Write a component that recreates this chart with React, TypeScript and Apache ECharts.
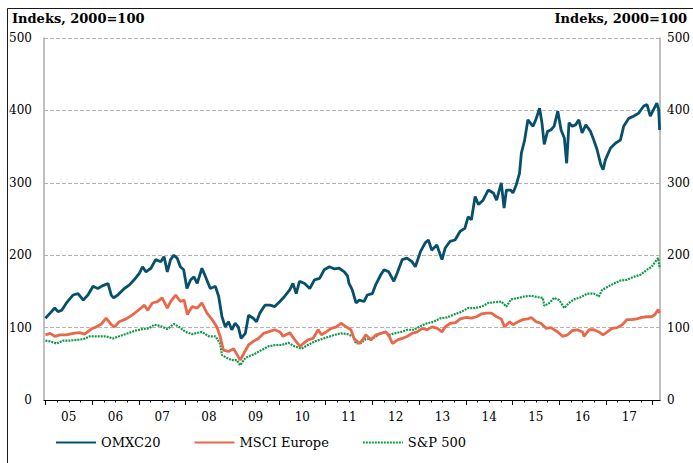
import React, { useEffect, useRef } from "react";
import * as echarts from "echarts";

// x values are years since start of 2005 (decimal), y values are index (2000=100)
const yearTicks = [2005, 2006, 2007, 2008, 2009, 2010, 2011, 2012, 2013, 2014, 2015, 2016, 2017, 2018];
const yearLabels = ["05", "06", "07", "08", "09", "10", "11", "12", "13", "14", "15", "16", "17"];

const omxcT = [0.00,0.10,0.20,0.27,0.35,0.45,0.59,0.70,0.81,0.91,1.02,1.12,1.23,1.34,1.41,1.46,1.55,1.69,1.80,1.90,2.01,2.08,2.15,2.26,2.36,2.47,2.54,2.61,2.68,2.75,2.82,2.89,2.96,3.03,3.11,3.18,3.25,3.35,3.43,3.53,3.64,3.71,3.78,3.85,3.92,3.99,4.06,4.13,4.19,4.28,4.35,4.45,4.52,4.59,4.70,4.81,4.91,5.02,5.12,5.23,5.30,5.37,5.44,5.55,5.66,5.76,5.87,5.97,6.08,6.19,6.29,6.40,6.47,6.50,6.57,6.65,6.72,6.82,6.89,7.00,7.07,7.18,7.25,7.35,7.46,7.53,7.64,7.74,7.85,7.92,8.03,8.13,8.20,8.27,8.38,8.49,8.56,8.66,8.77,8.88,8.98,9.05,9.12,9.20,9.27,9.37,9.48,9.59,9.66,9.76,9.82,9.87,9.96,10.01,10.08,10.15,10.19,10.26,10.33,10.44,10.51,10.58,10.63,10.68,10.75,10.82,10.89,10.97,11.04,11.11,11.16,11.21,11.28,11.35,11.42,11.49,11.57,11.67,11.74,11.81,11.89,11.94,11.99,12.10,12.21,12.31,12.38,12.49,12.59,12.70,12.81,12.88,12.95,13.02,13.09,13.13,13.15];
const omxcValues = [113,120,127,122,124,134,145,147,138,145,157,154,158,161,145,141,145,154,159,166,175,184,177,182,194,191,198,177,194,200,196,184,180,154,166,170,161,182,170,154,157,143,115,101,108,97,106,101,85,92,117,113,108,120,131,131,129,136,143,152,161,147,164,161,154,166,168,180,184,181,182,177,171,161,152,134,138,136,145,147,159,173,180,177,164,175,194,196,191,184,205,217,221,207,214,194,210,219,221,233,237,253,249,281,270,276,290,286,276,300,265,290,290,286,297,313,341,359,387,378,389,403,383,353,371,373,378,399,373,362,327,383,378,380,387,369,380,371,359,346,325,318,332,348,355,359,378,389,392,396,406,408,392,401,410,401,373];

const msciT = [0.00,0.10,0.20,0.31,0.45,0.59,0.73,0.84,0.98,1.09,1.20,1.30,1.41,1.48,1.58,1.73,1.87,2.01,2.12,2.19,2.29,2.40,2.50,2.61,2.68,2.79,2.89,2.97,3.04,3.14,3.25,3.35,3.46,3.57,3.67,3.74,3.81,3.92,4.03,4.17,4.27,4.35,4.45,4.56,4.67,4.77,4.91,5.02,5.09,5.23,5.34,5.45,5.52,5.62,5.73,5.84,5.91,6.01,6.12,6.23,6.33,6.44,6.54,6.61,6.72,6.79,6.86,6.97,7.08,7.18,7.29,7.36,7.43,7.54,7.64,7.75,7.85,7.96,8.07,8.17,8.28,8.39,8.49,8.56,8.67,8.78,8.88,9.02,9.12,9.23,9.34,9.44,9.55,9.66,9.76,9.83,9.94,10.01,10.12,10.22,10.33,10.40,10.51,10.61,10.72,10.82,10.97,11.07,11.18,11.28,11.39,11.50,11.53,11.64,11.74,11.85,11.94,12.03,12.13,12.24,12.35,12.45,12.56,12.66,12.77,12.88,12.98,13.05,13.12,13.15];
const msciValues = [90,92,88,90,90,92,93,91,98,101,105,113,104,101,108,112,118,125,131,124,134,136,141,127,136,145,136,138,118,129,127,134,120,111,101,88,69,67,71,55,67,76,81,85,92,94,97,94,88,93,83,74,78,83,85,97,90,94,99,101,106,101,97,85,78,83,90,83,90,92,94,88,78,83,85,88,92,94,99,97,101,99,94,101,106,107,112,114,113,115,119,120,120,115,112,101,108,104,108,111,112,114,108,106,99,100,94,88,90,96,97,94,88,97,97,94,90,94,99,100,104,111,111,112,114,115,115,118,125,120];

const spT = [0.00,0.10,0.24,0.38,0.52,0.66,0.81,0.95,1.09,1.30,1.44,1.58,1.76,1.94,2.08,2.22,2.33,2.47,2.61,2.75,2.86,3.00,3.14,3.35,3.50,3.64,3.74,3.78,3.89,3.99,4.10,4.17,4.28,4.35,4.49,4.63,4.77,4.92,5.06,5.20,5.34,5.48,5.62,5.77,5.91,6.05,6.19,6.33,6.47,6.58,6.65,6.76,6.86,7.01,7.15,7.25,7.36,7.47,7.61,7.75,7.89,8.03,8.17,8.31,8.46,8.60,8.74,8.88,9.05,9.20,9.34,9.48,9.62,9.76,9.87,9.97,10.12,10.26,10.40,10.54,10.65,10.68,10.79,10.89,11.00,11.11,11.21,11.32,11.46,11.60,11.74,11.85,11.92,12.03,12.17,12.31,12.45,12.59,12.74,12.88,12.98,13.09,13.12,13.15];
const spValues = [82,81,78,82,82,83,84,88,88,88,85,88,92,96,98,99,104,102,98,105,101,94,91,94,88,88,78,62,58,55,55,48,58,60,64,69,74,76,76,79,74,71,76,81,84,87,90,92,91,88,78,79,84,85,91,94,90,92,94,97,97,102,106,108,113,114,118,121,127,127,129,134,135,136,129,139,141,143,144,142,141,130,134,141,138,127,134,139,142,147,147,143,152,156,161,165,166,170,173,180,184,194,196,182];

const seriesNames = ["OMXC20", "MSCI Europe", "S&P 500"];
const colors = ["#07506c", "#e8694a", "#12994c"];

const FONT = "DejaVu Serif";

function pairs(t: number[], v: number[]) {
  return t.map((x, i) => [yearTicks[0] + x, v[i]]);
}

export default function App() {
  const ref = useRef<HTMLDivElement>(null);
  useEffect(() => {
    if (!ref.current) return;
    const chart = echarts.init(ref.current, null, { renderer: "svg" });
    const xMin = 2004.97;
    const xMax = 2018.16;
    const quarterTicks: number[] = [];
    yearTicks.slice(0, -1).forEach((y) => {
      quarterTicks.push(y + 0.25, y + 0.5, y + 0.75);
    });
    const option: any = {
      animation: false,
      backgroundColor: "#ffffff",
      grid: { left: 44, right: 28, top: 38, bottom: 63, containLabel: false },
      graphic: [
        {
          type: "rect",
          shape: { x: 7.5, y: 8.5, width: 720, height: 480 },
          style: { fill: "none", stroke: "#1a1a1a", lineWidth: 1 },
          silent: true,
        },
        {
          type: "text",
          left: 12,
          top: 12,
          style: { text: "Indeks, 2000=100", font: `bold 13px "${FONT}"`, fill: "#000" },
        },
        {
          type: "text",
          right: 6,
          top: 12,
          style: { text: "Indeks, 2000=100", font: `bold 13px "${FONT}"`, fill: "#000", align: "right" },
        },
      ],
      legend: {
        data: seriesNames,
        left: 50,
        top: 431,
        itemWidth: 40,
        itemHeight: 12,
        itemGap: 33,
        itemStyle: { opacity: 0 },
        textStyle: { fontFamily: FONT, fontSize: 13, color: "#000" },
      },
      xAxis: [
        {
          type: "value",
          min: xMin,
          max: xMax,
          position: "bottom",
          axisLine: { show: true, onZero: false, lineStyle: { color: "#000", width: 1 } },
          axisTick: { show: true, customValues: yearTicks, length: 5, lineStyle: { color: "#000", width: 1 } },
          axisLabel: {
            show: true,
            customValues: yearLabels.map((_, i) => yearTicks[i] + 0.5),
            formatter: (v: number) => yearLabels[Math.floor(v) - yearTicks[0]] ?? "",
            fontFamily: FONT,
            fontSize: 12,
            color: "#000",
            margin: 11,
          },
          splitLine: { show: false },
        },
        {
          type: "value",
          min: xMin,
          max: xMax,
          position: "bottom",
          axisLine: { show: false },
          axisTick: { show: true, customValues: quarterTicks, length: 2.5, lineStyle: { color: "#000", width: 1 } },
          axisLabel: { show: false },
          splitLine: { show: false },
        },
      ],
      yAxis: [
        {
          type: "value",
          min: 0,
          max: 500,
          interval: 100,
          position: "left",
          axisLine: { show: true, lineStyle: { color: "#ababab", width: 1.5 } },
          axisTick: { show: false },
          axisLabel: { fontFamily: FONT, fontSize: 12, color: "#000", margin: 12 },
          splitLine: { show: true, lineStyle: { color: "#b4b4b4", width: 1, type: [4, 2] } },
        },
        {
          type: "value",
          min: 0,
          max: 500,
          interval: 100,
          position: "right",
          axisLine: { show: true, lineStyle: { color: "#ababab", width: 1.5 } },
          axisTick: { show: false },
          axisLabel: { fontFamily: FONT, fontSize: 12, color: "#000", margin: 7 },
          splitLine: { show: false },
        },
      ],
      series: [
        {
          name: seriesNames[0],
          type: "line",
          data: pairs(omxcT, omxcValues),
          symbol: "none",
          lineStyle: { color: colors[0], width: 2.8 },
          itemStyle: { color: colors[0] },
          z: 4,
        },
        {
          name: seriesNames[1],
          type: "line",
          data: pairs(msciT, msciValues),
          symbol: "none",
          lineStyle: { color: colors[1], width: 2.8 },
          itemStyle: { color: colors[1] },
          z: 3,
        },
        {
          name: seriesNames[2],
          type: "line",
          data: pairs(spT, spValues),
          symbol: "none",
          lineStyle: { color: colors[2], width: 2.2, type: [2, 1] },
          itemStyle: { color: colors[2] },
          z: 2,
        },
      ],
    };
    chart.setOption(option);
    return () => chart.dispose();
  }, []);
  return (
    <div
      ref={ref}
      style={{ position: "absolute", left: 0, top: 0, width: 693, height: 463, background: "#fff" }}
    />
  );
}
